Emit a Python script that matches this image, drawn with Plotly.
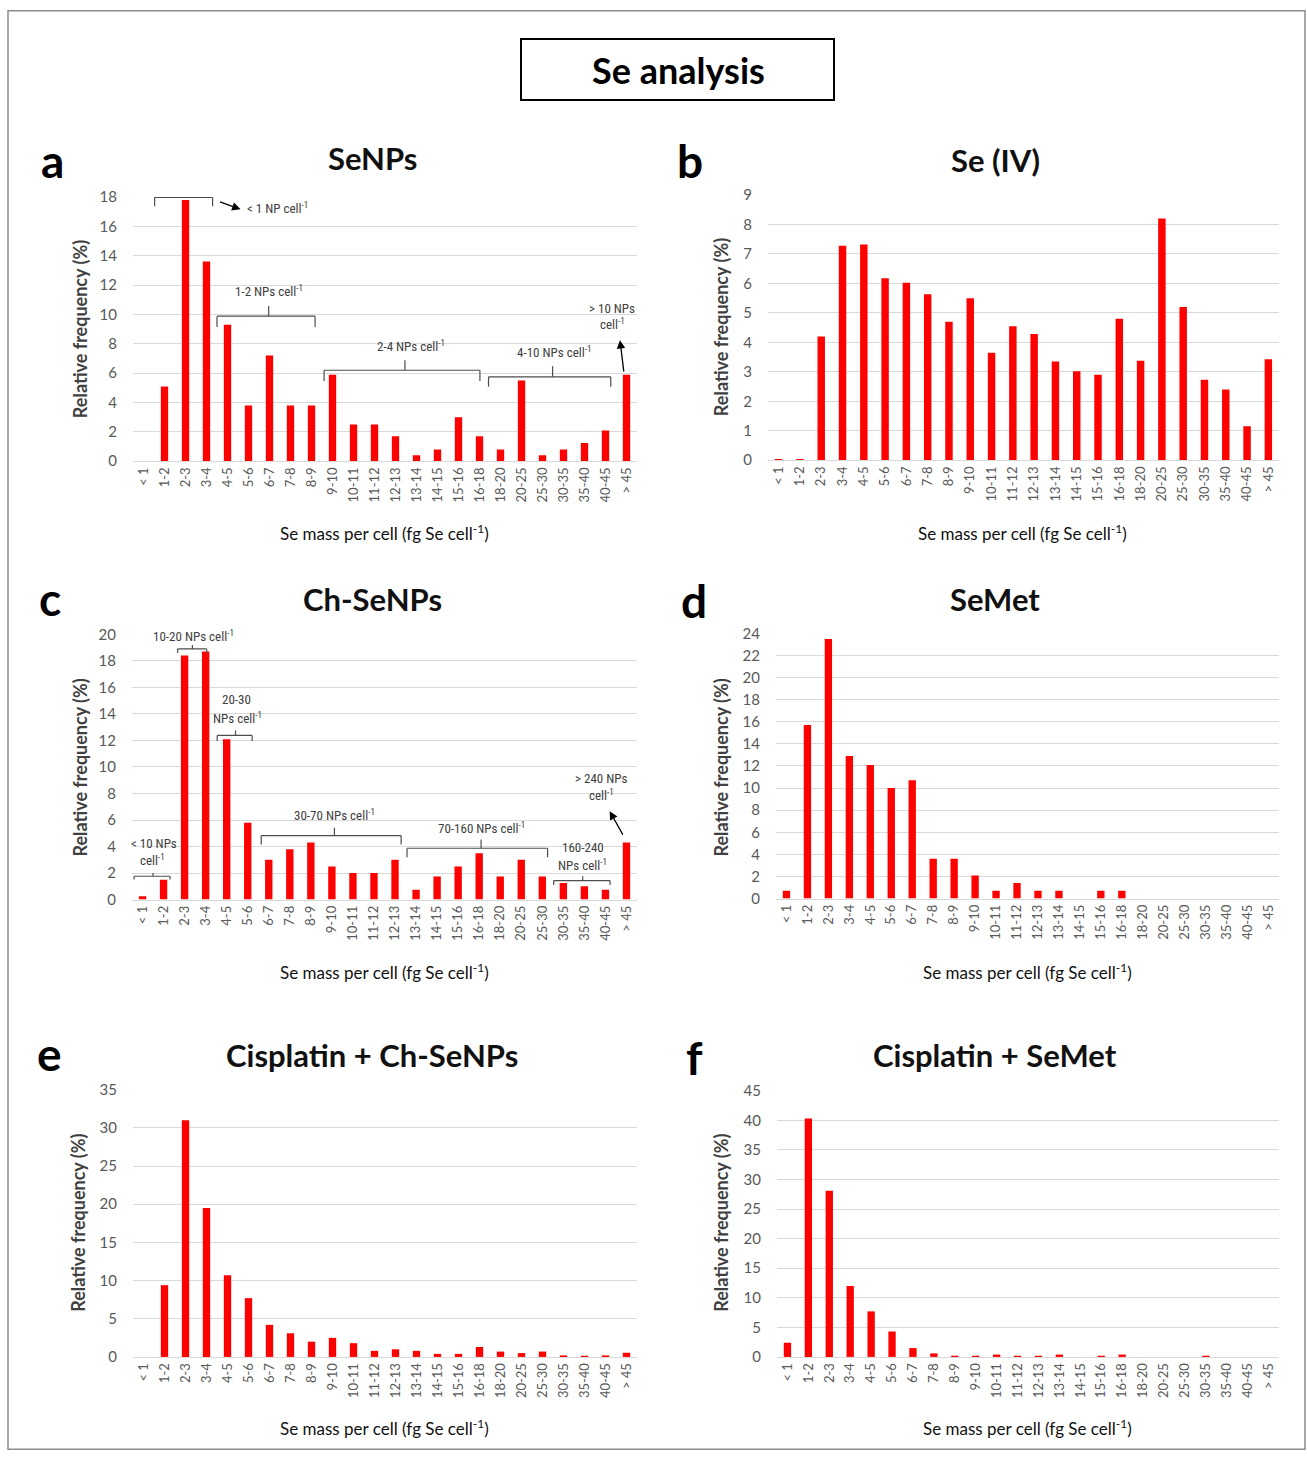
import plotly.graph_objects as go

W, H = 1307, 1458

categories = ["< 1", "1-2", "2-3", "3-4", "4-5", "5-6", "6-7", "7-8", "8-9", "9-10",
              "10-11", "11-12", "12-13", "13-14", "14-15", "15-16", "16-18", "18-20",
              "20-25", "25-30", "30-35", "35-40", "40-45", "> 45"]

senps = [0, 5.1, 17.8, 13.6, 9.3, 3.8, 7.2, 3.8, 3.8, 5.9, 2.5, 2.5, 1.7, 0.4, 0.8, 3.0,
         1.7, 0.8, 5.5, 0.4, 0.8, 1.25, 2.1, 5.9]
se_iv = [0.02, 0.02, 4.2, 7.28, 7.32, 6.18, 6.02, 5.63, 4.7, 5.5, 3.65, 4.55, 4.28, 3.35,
         3.02, 2.9, 4.8, 3.38, 8.2, 5.2, 2.73, 2.4, 1.15, 3.43]
ch_senps = [0.25, 1.5, 18.4, 18.7, 12.1, 5.8, 3.0, 3.8, 4.3, 2.5, 2.0, 2.0, 3.0, 0.75, 1.75,
            2.5, 3.5, 1.75, 3.0, 1.75, 1.25, 1.0, 0.75, 4.3]
semet = [0.7, 15.7, 23.5, 12.9, 12.1, 10.0, 10.7, 3.6, 3.6, 2.1, 0.7, 1.4, 0.7, 0.7, 0, 0.7,
         0.7, 0, 0, 0, 0, 0, 0, 0]
cis_ch_senps = [0, 9.4, 31.0, 19.5, 10.7, 7.7, 4.2, 3.1, 2.0, 2.5, 1.8, 0.8, 1.0, 0.8, 0.4,
                0.4, 1.3, 0.7, 0.5, 0.7, 0.2, 0.1, 0.2, 0.55]
cis_semet = [2.4, 40.3, 28.1, 12.0, 7.7, 4.3, 1.5, 0.6, 0.15, 0.15, 0.4, 0.15, 0.15, 0.4, 0,
             0.15, 0.4, 0, 0, 0, 0.15, 0, 0, 0]

panel_titles = ["SeNPs", "Se (IV)", "Ch-SeNPs", "SeMet", "Cisplatin + Ch-SeNPs", "Cisplatin + SeMet"]
panel_letters = ["a", "b", "c", "d", "e", "f"]
series = [senps, se_iv, ch_senps, semet, cis_ch_senps, cis_semet]
y_max = [18, 9, 20, 24, 35, 45]
y_dtick = [2, 1, 2, 2, 5, 5]

# pixel layout of each plot area: (x0, x1, ytop, ybottom)
areas = [(133, 637, 197, 461), (768, 1279, 195, 460), (132, 637, 634, 899),
         (776, 1279, 633, 898), (133, 637, 1089, 1356), (777, 1279, 1090, 1356)]
title_pos = [(372, 158), (995, 160), (372, 599), (995, 599), (372, 1054), (995, 1054)]
letter_pos = [(52, 160), (690, 160), (50, 598), (694, 600), (50, 1053), (694, 1057)]
ytitle_pos = [(80, 329), (721, 327), (80, 767), (721, 767), (78, 1222), (721, 1222)]
xtitle_pos = [(384, 532), (1022, 532), (384, 971), (1027, 971), (384, 1427), (1027, 1427)]

FONT = "Lato, Carlito, 'Open Sans', sans-serif"
NARROW = "'Liberation Sans Narrow', 'Roboto Condensed', Lato, sans-serif"

# the photographed page maps figure y to about 10.1 + 0.9869*y; compensate
Y_OFF, Y_SCALE = 10.1, 0.9869


def px(x):
    return x / W


def py(y):
    yy = (y - Y_OFF) / Y_SCALE
    yy = min(max(yy, 0.75), H - 0.75)
    return 1 - yy / H


fig = go.Figure()
layout = dict(width=W, height=H, margin=dict(l=0, r=0, t=0, b=0),
              paper_bgcolor="white", plot_bgcolor="white", showlegend=False,
              bargap=0.65, font=dict(family=FONT, color="#595959"))
annotations = []
shapes = []

for i in range(6):
    n = "" if i == 0 else str(i + 1)
    fig.add_trace(go.Bar(x=categories, y=series[i], marker=dict(color="#ff0000", line=dict(width=0)),
                         xaxis="x" + n, yaxis="y" + n))
    x0, x1, yt, yb = areas[i]
    layout["xaxis" + n] = dict(domain=[px(x0), px(x1)], anchor="y" + n, type="category",
                               range=[-0.5, 23.5], tickangle=-90,
                               tickfont=dict(size=13, color="#595959", family=FONT),
                               showgrid=False, showline=True, linecolor="#d9d9d9", linewidth=1,
                               ticks="", zeroline=False, fixedrange=True)
    layout["yaxis" + n] = dict(domain=[py(yb), py(yt)], anchor="x" + n, range=[0, y_max[i]],
                               dtick=y_dtick[i], tick0=0, showgrid=True, gridcolor="#d9d9d9",
                               gridwidth=1, zeroline=False, showline=False, ticks="",
                               tickfont=dict(size=15, color="#595959", family=FONT),
                               ticklabelstandoff=15, fixedrange=True)
    tx, ty = title_pos[i]
    annotations.append(dict(text="<b>%s</b>" % panel_titles[i], x=px(tx), y=py(ty), xref="paper",
                            yref="paper", showarrow=False, xanchor="center", yanchor="middle",
                            font=dict(size=31, color="#111111", family=FONT)))
    lx, ly = letter_pos[i]
    annotations.append(dict(text="<b>%s</b>" % panel_letters[i], x=px(lx), y=py(ly), xref="paper",
                            yref="paper", showarrow=False, xanchor="center", yanchor="middle",
                            font=dict(size=46, color="#000000", family=FONT)))
    ax_, ay_ = ytitle_pos[i]
    annotations.append(dict(text="<b>Relative frequency (%)</b>", x=px(ax_), y=py(ay_),
                            xref="paper", yref="paper", showarrow=False, textangle=-90,
                            xanchor="center", yanchor="middle",
                            font=dict(size=18, color="#404040", family=FONT)))
    bx, by = xtitle_pos[i]
    annotations.append(dict(text="Se mass per cell (fg Se cell<sup>-1</sup>)", x=px(bx), y=py(by),
                            xref="paper", yref="paper", showarrow=False, xanchor="center",
                            yanchor="middle", font=dict(size=17, color="#111111", family=FONT)))

# Title box
annotations.append(dict(text="<b>Se analysis</b>", x=px(678), y=py(70), xref="paper", yref="paper",
                        showarrow=False, xanchor="center", yanchor="middle",
                        font=dict(size=36, color="#000000", family=FONT)))
shapes.append(dict(type="rect", xref="paper", yref="paper", x0=px(521), x1=px(834), y0=py(39),
                   y1=py(100), line=dict(color="#000000", width=2)))
# Outer frame
shapes.append(dict(type="rect", xref="paper", yref="paper", x0=px(8), x1=px(1305), y0=py(8),
                   y1=py(1457), line=dict(color="#8c8c8c", width=1.5)))

BR = "#4d4d4d"


def bracket(n, xa, xb, ytop, yleg, xc, ytick):
    xr, yr = "x" + n, "y" + n
    segs = [(xa, ytop, xb, ytop), (xa, ytop, xa, yleg), (xb, ytop, xb, yleg)]
    if xc is not None:
        segs.append((xc, ytop, xc, ytick))
    for (a, b, c, d) in segs:
        shapes.append(dict(type="line", xref=xr, yref=yr, x0=a, y0=b, x1=c, y1=d,
                           line=dict(color=BR, width=1.2)))


def label(n, x, y, text):
    annotations.append(dict(text=text, x=x, y=y, xref="x" + n, yref="y" + n, showarrow=False,
                            xanchor="center", yanchor="middle",
                            font=dict(size=13, color="#404040", family=NARROW)))


def arrow(n, x, y, ax, ay):
    annotations.append(dict(text="", x=x, y=y, xref="x" + n, yref="y" + n, showarrow=True,
                            ax=ax, ay=ay, arrowhead=2, arrowsize=1.3, arrowwidth=1.3,
                            arrowcolor="#000000"))


# Panel a annotations (x in category index units)
bracket("", 0.53, 3.29, 17.98, 17.38, None, None)
arrow("", 4.62, 17.16, -22, -8)
label("", 6.4, 17.22, "< 1 NP cell<sup>-1</sup>")
bracket("", 3.5, 8.17, 9.88, 9.15, 5.96, 10.57)
label("", 5.96, 11.61, "1-2 NPs cell<sup>-1</sup>")
bracket("", 8.6, 16.02, 6.2, 5.47, 12.45, 6.88)
label("", 12.76, 7.84, "2-4 NPs cell<sup>-1</sup>")
bracket("", 16.43, 22.25, 5.75, 5.07, 19.48, 6.48)
label("", 19.55, 7.43, "4-10 NPs cell<sup>-1</sup>")
label("", 22.31, 10.43, "> 10 NPs")
label("", 22.31, 9.34, "cell<sup>-1</sup>")
arrow("", 22.69, 8.25, 4, 33)

# Panel c annotations
c = "3"
bracket(c, 1.67, 3.05, 18.9, 18.6, 2.37, 19.2)
label(c, 2.42, 19.9, "10-20 NPs cell<sup>-1</sup>")
bracket(c, 3.55, 5.21, 12.38, 11.95, 4.42, 12.75)
label(c, 4.45, 15.07, "20-30")
label(c, 4.5, 13.7, "NPs cell<sup>-1</sup>")
bracket(c, -0.4, 1.31, 1.76, 1.51, 0.5, 2.0)
label(c, 0.55, 4.25, "< 10 NPs")
label(c, 0.48, 3.0, "cell<sup>-1</sup>")
bracket(c, 5.64, 12.29, 4.83, 4.15, 9.12, 5.41)
label(c, 9.12, 6.39, "30-70 NPs cell<sup>-1</sup>")
bracket(c, 12.57, 19.25, 3.87, 3.19, 16.09, 4.53)
label(c, 16.09, 5.41, "70-160 NPs cell<sup>-1</sup>")
bracket(c, 19.54, 22.22, 1.43, 1.1, 20.92, 1.76)
label(c, 20.92, 3.95, "160-240")
label(c, 20.92, 2.62, "NPs cell<sup>-1</sup>")
label(c, 21.81, 9.16, "> 240 NPs")
label(c, 21.81, 7.85, "cell<sup>-1</sup>")
arrow(c, 22.2, 6.67, 14, 25)

layout["annotations"] = annotations
layout["shapes"] = shapes
fig.update_layout(**layout)
fig.write_html("out.html")
